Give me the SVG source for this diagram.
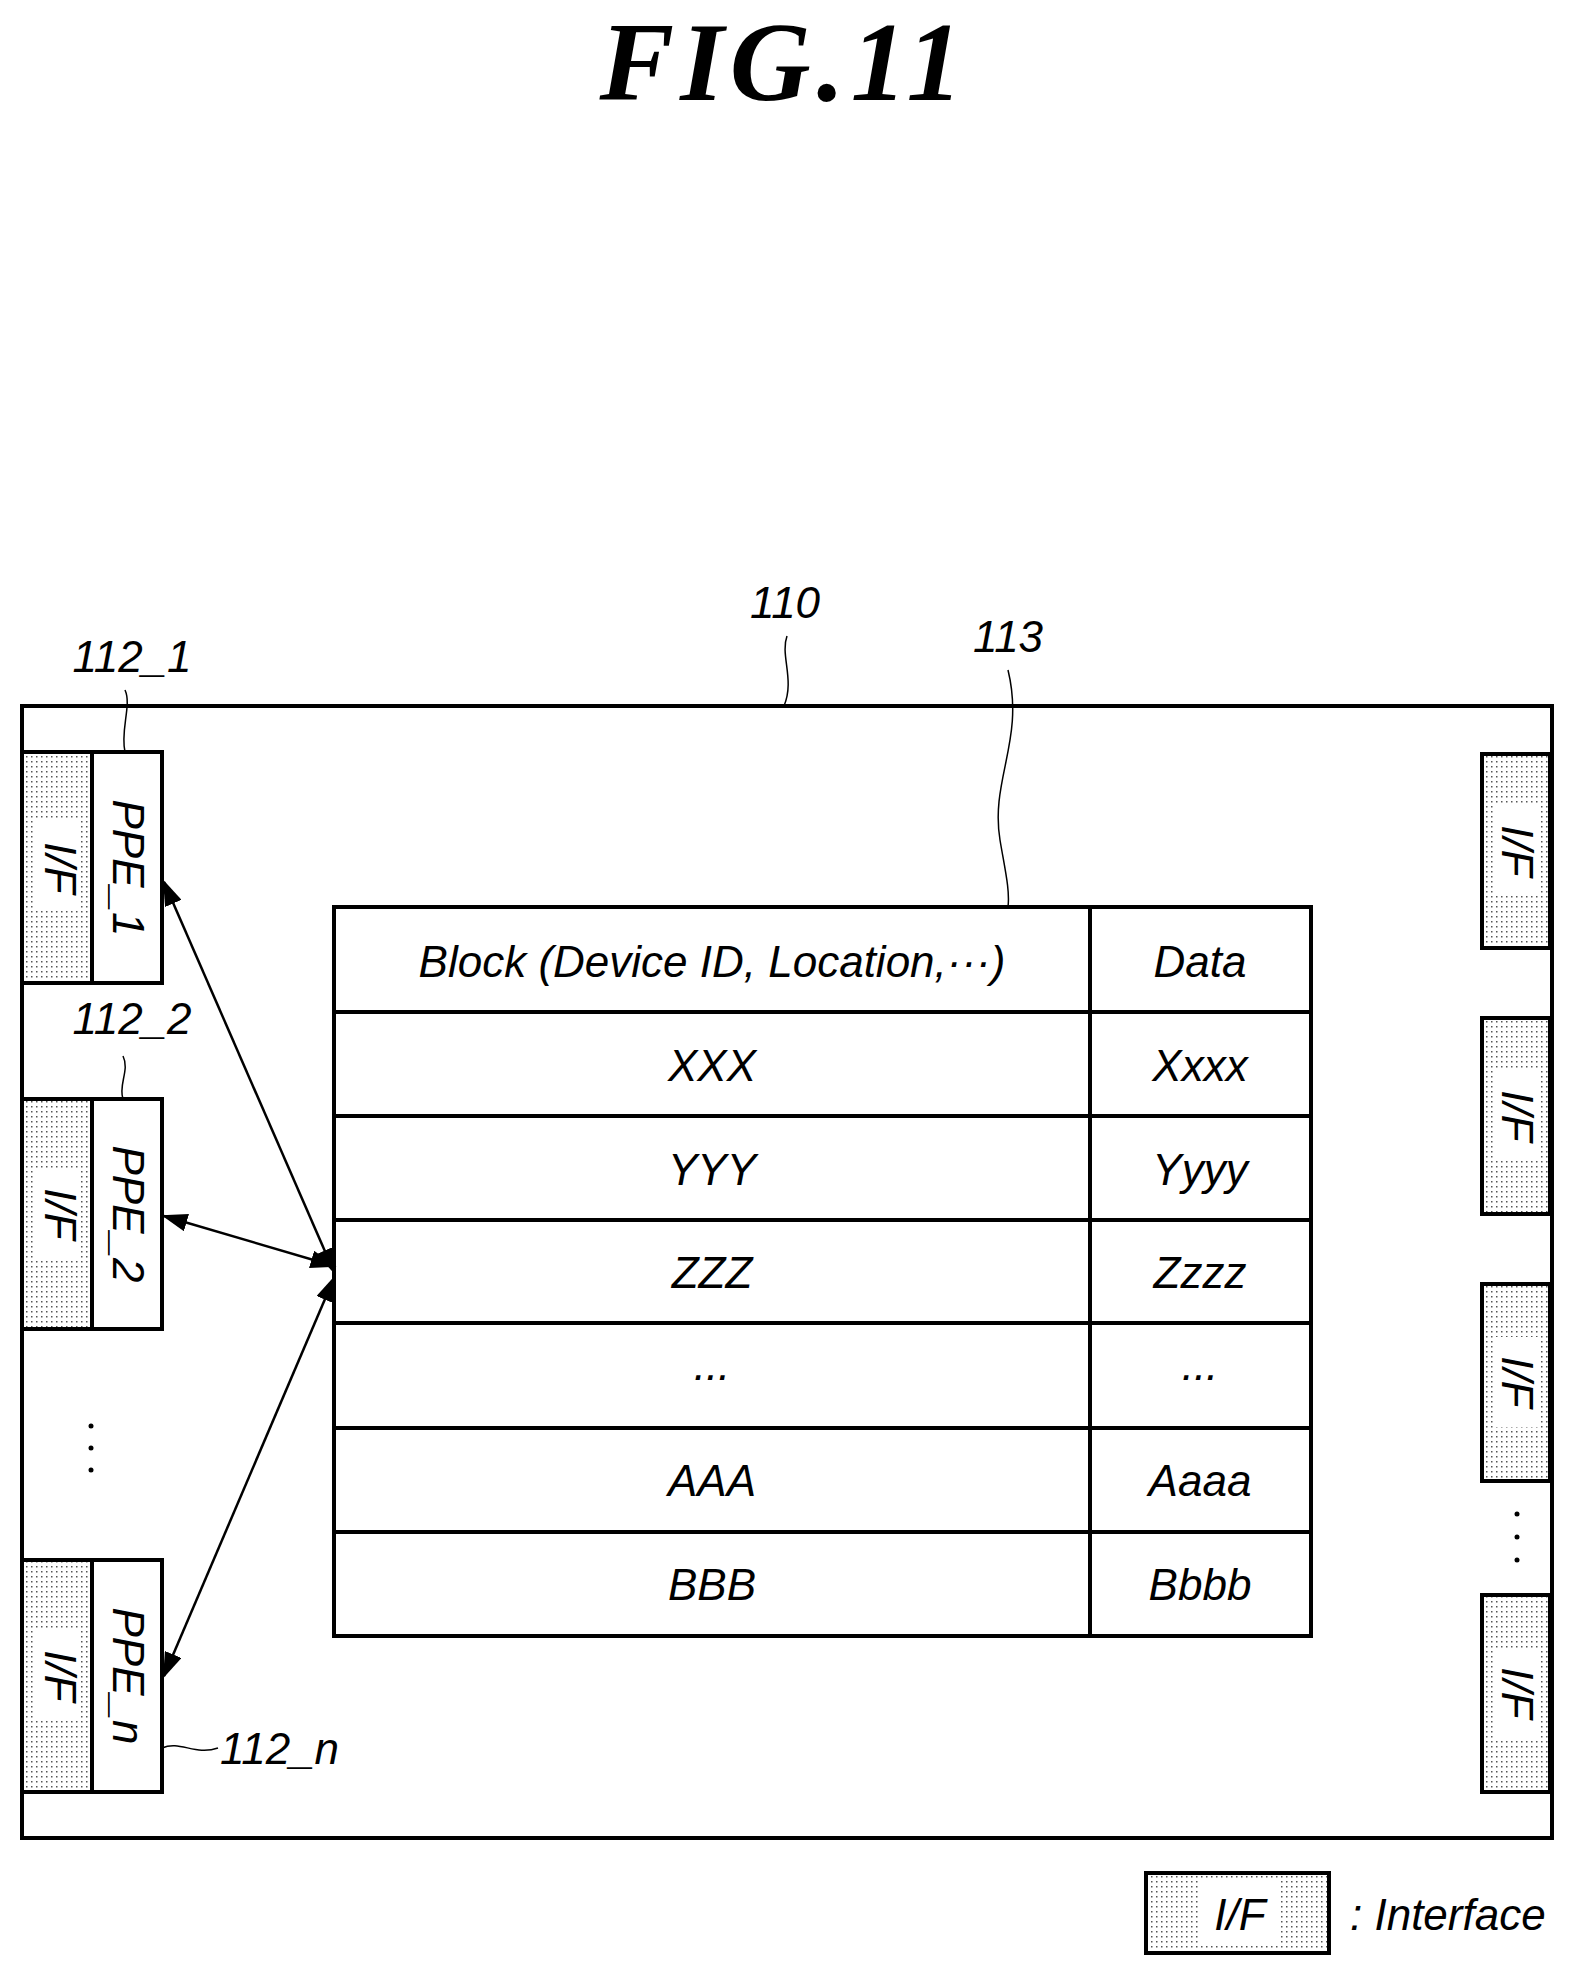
<svg xmlns="http://www.w3.org/2000/svg" width="1575" height="1976" viewBox="0 0 1575 1976">
<style>
.t{font-family:"Liberation Sans",Arial,sans-serif;font-style:italic;font-size:44px;fill:#000}
.b{fill:#fff;stroke:#000;stroke-width:4}
.if{fill:url(#dots);stroke:#000;stroke-width:4}
.l{fill:none;stroke:#000;stroke-width:1.5}
.c{fill:none;stroke:#000;stroke-width:2.5}
</style>
<defs>
<pattern id="dots" width="5" height="5" patternUnits="userSpaceOnUse"><rect width="5" height="5" fill="#fff"/><rect x="1" y="1" width="1.5" height="1.5" fill="#555"/></pattern>
<marker id="a" viewBox="0 0 10 10" refX="9" refY="5" markerWidth="26" markerHeight="18" orient="auto-start-reverse" markerUnits="userSpaceOnUse" preserveAspectRatio="none"><path d="M0,0 L10,5 L0,10 z" fill="#000"/></marker>
</defs>
<rect width="1575" height="1976" fill="#fff"/>
<text x="784" y="100" text-anchor="middle" font-family="Liberation Serif,serif" font-style="italic" font-weight="bold" font-size="112" letter-spacing="6">FIG.11</text>
<g id="n110">
<rect x="22" y="706" width="1530" height="1132" class="b"/>
<text class="t" x="785" y="618" text-anchor="middle" font-size="42">110</text>
<path class="l" d="M787,636 C780,655 795,680 784,706"/>
</g>
<g id="n112_1">
<rect x="22" y="752" width="70" height="231" class="if"/>
<rect x="34" y="820" width="46" height="90" fill="#fff"/>
<rect x="92" y="752" width="70" height="231" class="b"/>
<text class="t" transform="translate(45,868) rotate(90)" text-anchor="middle" font-size="40">I/F</text>
<text class="t" transform="translate(113,868) rotate(90)" text-anchor="middle" font-size="40">PPE_1</text>
<text class="t" x="132" y="672" text-anchor="middle" font-size="42">112_1</text>
<path class="l" d="M125,690 C132,705 120,730 125,752"/>
</g>
<g id="n112_2">
<rect x="22" y="1099" width="70" height="230" class="if"/>
<rect x="34" y="1170" width="46" height="90" fill="#fff"/>
<rect x="92" y="1099" width="70" height="230" class="b"/>
<text class="t" transform="translate(45,1214) rotate(90)" text-anchor="middle" font-size="40">I/F</text>
<text class="t" transform="translate(113,1214) rotate(90)" text-anchor="middle" font-size="40">PPE_2</text>
<text class="t" x="132" y="1034" text-anchor="middle" font-size="42">112_2</text>
<path class="l" d="M123,1056 C130,1070 118,1085 123,1099"/>
</g>
<g id="dotsL">
<circle cx="91" cy="1426" r="2.5"/><circle cx="91" cy="1448" r="2.5"/><circle cx="91" cy="1470" r="2.5"/>
</g>
<g id="n112_n">
<rect x="22" y="1560" width="70" height="232" class="if"/>
<rect x="34" y="1630" width="46" height="90" fill="#fff"/>
<rect x="92" y="1560" width="70" height="232" class="b"/>
<text class="t" transform="translate(45,1676) rotate(90)" text-anchor="middle" font-size="40">I/F</text>
<text class="t" transform="translate(113,1676) rotate(90)" text-anchor="middle" font-size="40">PPE_n</text>
<text class="t" x="220" y="1764" font-size="42">112_n</text>
<path class="l" d="M162,1748 C180,1740 195,1756 218,1748"/>
</g>
<g id="n113">
<rect x="334" y="907" width="977" height="729" class="b"/>
<path d="M1090,907 V1636 M334,1012 H1311 M334,1116 H1311 M334,1220 H1311 M334,1323 H1311 M334,1428 H1311 M334,1532 H1311" stroke="#000" stroke-width="4"/>
<text class="t" x="712" y="977" text-anchor="middle">Block (Device ID, Location,···)</text>
<text class="t" x="1200" y="977" text-anchor="middle">Data</text>
<text class="t" x="712" y="1081" text-anchor="middle">XXX</text>
<text class="t" x="1200" y="1081" text-anchor="middle">Xxxx</text>
<text class="t" x="712" y="1185" text-anchor="middle">YYY</text>
<text class="t" x="1200" y="1185" text-anchor="middle">Yyyy</text>
<text class="t" x="712" y="1288" text-anchor="middle">ZZZ</text>
<text class="t" x="1200" y="1288" text-anchor="middle">Zzzz</text>
<text class="t" x="712" y="1380" text-anchor="middle">...</text>
<text class="t" x="1200" y="1380" text-anchor="middle">...</text>
<text class="t" x="712" y="1496" text-anchor="middle">AAA</text>
<text class="t" x="1200" y="1496" text-anchor="middle">Aaaa</text>
<text class="t" x="712" y="1600" text-anchor="middle">BBB</text>
<text class="t" x="1200" y="1600" text-anchor="middle">Bbbb</text>
<text class="t" x="1008" y="652" text-anchor="middle" font-size="42">113</text>
<path class="l" d="M1008,670 C1025,740 990,780 1000,840 C1005,870 1010,890 1008,907"/>
</g>
<g id="ifR1"><rect x="1482" y="754" width="68" height="194" class="if"/><rect x="1494" y="806" width="44" height="90" fill="#fff"/><text class="t" transform="translate(1502,851) rotate(90)" text-anchor="middle" font-size="40">I/F</text></g>
<g id="ifR2"><rect x="1482" y="1018" width="68" height="196" class="if"/><rect x="1494" y="1071" width="44" height="90" fill="#fff"/><text class="t" transform="translate(1502,1116) rotate(90)" text-anchor="middle" font-size="40">I/F</text></g>
<g id="ifR3"><rect x="1482" y="1284" width="68" height="197" class="if"/><rect x="1494" y="1337" width="44" height="90" fill="#fff"/><text class="t" transform="translate(1502,1382) rotate(90)" text-anchor="middle" font-size="40">I/F</text></g>
<g id="dotsR"><circle cx="1517" cy="1514" r="2.5"/><circle cx="1517" cy="1537" r="2.5"/><circle cx="1517" cy="1560" r="2.5"/></g>
<g id="ifR4"><rect x="1482" y="1595" width="68" height="197" class="if"/><rect x="1494" y="1648" width="44" height="90" fill="#fff"/><text class="t" transform="translate(1502,1693) rotate(90)" text-anchor="middle" font-size="40">I/F</text></g>
<g id="connectors">
<line class="c" x1="334" y1="1272" x2="164" y2="882" marker-start="url(#a)" marker-end="url(#a)"/>
<line class="c" x1="334" y1="1266" x2="164" y2="1216" marker-start="url(#a)" marker-end="url(#a)"/>
<line class="c" x1="334" y1="1278" x2="164" y2="1676" marker-start="url(#a)" marker-end="url(#a)"/>
</g>
<g id="legend">
<rect x="1146" y="1873" width="183" height="80" class="if"/>
<rect x="1200" y="1880" width="80" height="66" fill="#fff"/>
<text class="t" x="1240" y="1930" text-anchor="middle" font-size="44">I/F</text>
<text class="t" x="1350" y="1930" font-size="44">: Interface</text>
</g>
</svg>
